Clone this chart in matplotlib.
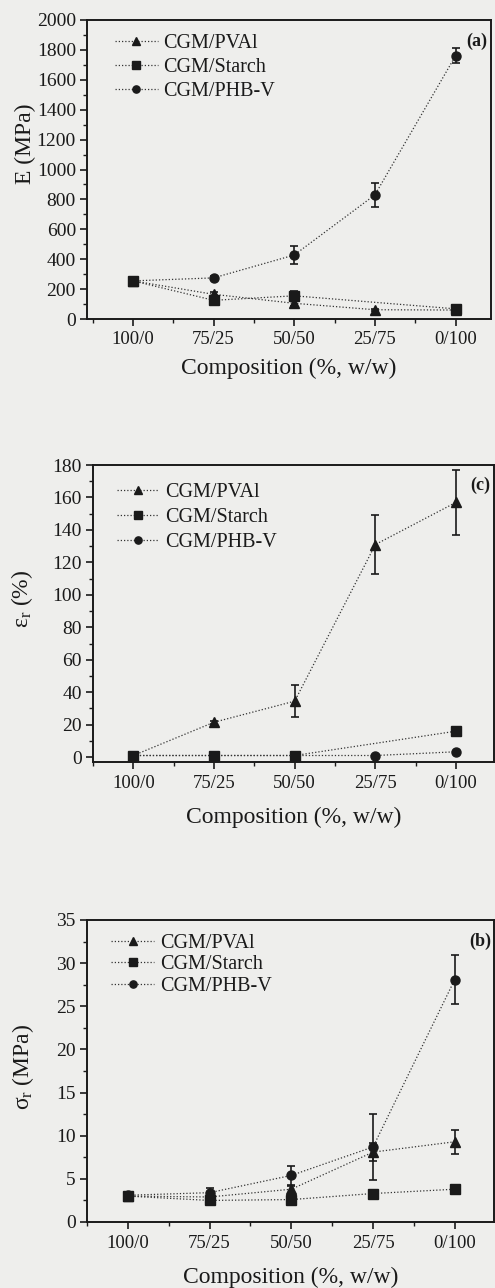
import numpy as np
from matplotlib import pyplot as plt
from matplotlib.ticker import MultipleLocator

plt.rcParams['font.family'] = ['Liberation Serif', 'DejaVu Serif']
plt.rcParams['mathtext.fontset'] = 'custom'
plt.rcParams['mathtext.rm'] = 'Liberation Serif'
plt.rcParams['mathtext.it'] = 'Liberation Serif:italic'

categories = ['100/0', '75/25', '50/50', '25/75', '0/100']
series = ['CGM/PVAl', 'CGM/Starch', 'CGM/PHB-V']
markers = ['^', 's', 'o']

# (a) Young's modulus, MPa
E_pval = [255, 165, 105, 62, 60]
E_pval_err = [0, 15, 15, 8, 8]
E_starch = [255, 125, 155, np.nan, 68]
E_starch_err = [0, 15, 35, 0, 10]
E_phbv = [255, 275, 428, 830, 1760]
E_phbv_err = [15, 15, 57, 80, 50]

# (c) elongation at break, %
eps_pval = [1, 21.5, 34.5, 131, 157]
eps_pval_err = [0, 1, 10, 18, 20]
eps_starch = [1, 1, 1, np.nan, 16]
eps_starch_err = [0, 0, 0, 0, 1]
eps_phbv = [1, 1, 1, 1, 3.3]
eps_phbv_err = [0, 0, 0, 0, 0.5]

# (b) tensile strength, MPa
sig_pval = [3.0, 2.9, 3.8, 8.1, 9.3]
sig_pval_err = [0.2, 0.2, 0.4, 1.0, 1.4]
sig_starch = [3.0, 2.5, 2.6, 3.3, 3.8]
sig_starch_err = [0.2, 0.2, 0.2, 0.2, 0.3]
sig_phbv = [3.1, 3.4, 5.4, 8.7, 28.1]
sig_phbv_err = [0.2, 0.5, 1.1, 3.8, 2.85]

bg = '#eeeeec'
ink = '#1a1a1a'
W, H = 495, 1288


def panel(rect, data, errs, ylim, major, minor, ylabel, letter, xlim,
          ylab_xy, xlab_y, leg_anchor, leg_space):
    ax = fig.add_axes(rect)
    ax.set_facecolor(bg)
    x = np.arange(len(categories))
    for vals, err, m, name in zip(data, errs, markers, series):
        vals = np.array(vals, dtype=float)
        err = np.array(err, dtype=float)
        ok = ~np.isnan(vals)
        ax.plot(x[ok], vals[ok], linestyle=(0, (1, 1.6)), lw=0.9, color='#333333',
                marker=m, ms=6.5 if m != '^' else 7, mfc=ink, mec=ink, label=name)
        ax.errorbar(x[ok], vals[ok], yerr=err[ok], fmt='none', ecolor=ink,
                    elinewidth=1.2, capsize=3, capthick=1.2)
    ax.set_xlim(*xlim)
    ax.set_ylim(*ylim)
    ax.set_xticks(x)
    ax.set_xticklabels(categories)
    ax.xaxis.set_minor_locator(MultipleLocator(0.5))
    ax.yaxis.set_major_locator(MultipleLocator(major))
    ax.yaxis.set_minor_locator(MultipleLocator(minor))
    ax.tick_params(which='major', direction='out', length=5, width=1.2,
                   labelsize=13.5, colors=ink, pad=3)
    ax.tick_params(axis='y', which='major', labelsize=14)
    ax.tick_params(which='minor', direction='out', length=3, width=1.0, colors=ink)
    ax.tick_params(axis='x', which='major', pad=4)
    for s in ax.spines.values():
        s.set_linewidth(1.4)
        s.set_color(ink)
    ax.set_ylabel(ylabel, fontsize=17, color=ink)
    ax.yaxis.set_label_coords(*ylab_xy)
    ax.set_xlabel('Composition (%, w/w)', fontsize=17, color=ink)
    ax.xaxis.set_label_coords(0.5, xlab_y)
    ax.text(0.965, 0.93, letter, transform=ax.transAxes, ha='center', va='center',
            fontsize=13, fontweight='bold', color=ink)
    ax.legend(loc='upper left', bbox_to_anchor=leg_anchor, frameon=False,
              fontsize=14.5, handlelength=2.1, handletextpad=0.3, markerscale=0.8,
              labelspacing=leg_space, borderaxespad=0, borderpad=0,
              labelcolor=ink)
    return ax


fig = plt.figure(figsize=(W / 100, H / 100), dpi=100)
fig.patch.set_facecolor(bg)


def rect(left, top, right, bottom):
    return [left / W, 1 - bottom / H, (right - left) / W, (bottom - top) / H]


panel(rect(87, 20, 491, 319),
      [E_pval, E_starch, E_phbv], [E_pval_err, E_starch_err, E_phbv_err],
      (0, 2000), 200, 100, 'E (MPa)', '(a)', (-0.57, 4.44),
      (-0.125, 0.585), -0.13, (0.07, 0.955), 0.25)

panel(rect(93, 465, 494, 762),
      [eps_pval, eps_starch, eps_phbv], [eps_pval_err, eps_starch_err, eps_phbv_err],
      (-3, 180), 20, 10, r'ε$_{\rm r}$ (%)', '(c)', (-0.5, 4.47),
      (-0.145, 0.55), -0.15, (0.06, 0.94), 0.3)

panel(rect(87, 920, 494, 1222),
      [sig_pval, sig_starch, sig_phbv], [sig_pval_err, sig_starch_err, sig_phbv_err],
      (0, 35), 5, 2.5, r'σ$_{\rm r}$ (MPa)', '(b)', (-0.5, 4.48),
      (-0.125, 0.513), -0.149, (0.06, 0.955), 0.12)

fig.savefig('out.png', dpi=100, facecolor=bg)
